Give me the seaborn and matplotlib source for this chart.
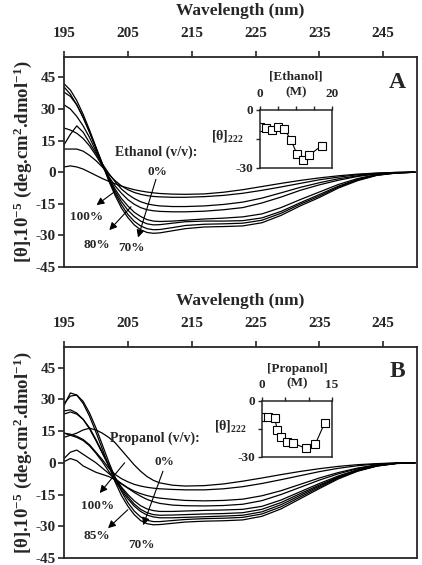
import matplotlib
matplotlib.use("Agg")
import matplotlib.pyplot as plt
import numpy as np
import pandas as pd
import seaborn as sns

# wavelengths (nm) at which the spectra were read
wl = [195, 196, 197, 198, 199, 200, 201, 202, 203, 204, 205, 206, 207, 208, 209,
      210, 212, 214, 217, 220, 223, 226, 229, 232, 235, 238, 241, 244, 247, 250]

# panel A : ethanol series
eth_a1 = [2.5, 3, 2.5, 1.5, 0, -1.5, -3, -4.3, -5.5, -6.6, -7.5, -8.3, -8.9, -9.4, -9.8,
          -10.1, -10.4, -10.5, -10.3, -9.5, -8.3, -6.8, -5.3, -3.9, -2.7, -1.7, -0.9, -0.4, -0.1, 0]
eth_a2 = [11, 11, 11, 10, 8, 5.5, 2.5, -1, -4, -6.5, -8.3, -9.6, -10.5, -11.1, -11.5,
          -11.7, -11.9, -11.9, -11.6, -11, -10, -8.6, -7, -5.3, -3.6, -2.3, -1.2, -0.5, -0.1, 0]
eth_a3 = [13, 18, 22, 19, 14, 9, 4, -0.5, -4.5, -8, -10.5, -12.5, -14, -15, -15.6,
          -16, -16.3, -16.3, -16, -15.3, -14.2, -12.3, -9.8, -7.2, -5, -3.1, -1.7, -0.7, -0.2, 0]
eth_a4 = [21, 20, 18.5, 16, 12.5, 8, 3, -2, -6.5, -10, -13, -15.2, -16.8, -17.8, -18.3,
          -18.6, -18.8, -18.8, -18.5, -17.8, -16.8, -14.6, -11.8, -8.6, -6, -3.8, -2, -0.8, -0.2, 0]
eth_a5 = [32, 30, 26.5, 22, 16.5, 10, 3.5, -2.5, -8, -12.5, -16, -19, -21, -22.5, -23.2,
          -23.4, -23.2, -22.8, -22.2, -21.8, -21.2, -19.8, -16.8, -13, -9.4, -5.8, -3, -1.1, -0.3, 0]
eth_a6 = [38, 36, 32, 26, 19, 11.5, 4, -3, -9, -14, -18, -21, -23.2, -24.5, -25,
          -24.9, -24.2, -23.5, -23.2, -23.2, -23, -21.7, -18.6, -14.5, -10.6, -6.6, -3.4, -1.3, -0.3, 0]
eth_a7 = [40.5, 37, 32, 26, 19, 11.5, 4, -3.5, -10, -15.5, -20, -23.3, -25.5, -26.8, -27.3,
          -27.2, -26.3, -25.3, -24.7, -24.5, -24.2, -22.8, -19.5, -15.2, -11.3, -7, -3.7, -1.4, -0.4, 0]
eth_a8 = [42, 39, 34, 27.5, 20, 12, 4, -4, -11, -17, -21.5, -25, -27.3, -28.6, -29,
          -28.8, -27.8, -26.8, -26, -25.8, -25.5, -24, -20.5, -16, -12, -7.5, -4, -1.5, -0.4, 0]

# panel B : propanol series
pro_b1 = [12, 13, 14, 15.5, 16.3, 15.5, 14, 12, 9.5, 6, 2.5, -1, -4, -6.5, -8.3,
          -9.5, -10.6, -11, -10.8, -10, -8.7, -7.2, -5.6, -4.1, -2.8, -1.7, -0.9, -0.4, -0.1, 0]
pro_b2 = [14, 13.5, 12.5, 11, 8.5, 5, 1.5, -2.5, -5.5, -7.5, -9, -10.2, -11, -11.6, -12,
          -12.3, -12.6, -12.8, -12.8, -12.3, -11.3, -9.8, -8, -6.1, -4.2, -2.6, -1.4, -0.6, -0.1, 0]
pro_b3 = [2, 5, 6, 4, 2, 0, -2.5, -5, -7.5, -9.8, -11.8, -13.4, -14.6, -15.5, -16.2,
          -16.7, -17.3, -17.8, -18, -17.8, -17.2, -15.6, -13.2, -10.2, -7.2, -4.6, -2.5, -1, -0.3, 0]
pro_b4 = [0.5, 2, 1, -1.5, -3, -4.5, -5.5, -6.5, -8, -10, -12, -14, -15.8, -17.3, -18.4,
          -19.2, -20, -20.3, -20.4, -20.2, -19.6, -17.9, -15, -11.6, -8.2, -5.2, -2.8, -1.1, -0.3, 0]
pro_b5 = [24.5, 25, 23.5, 20.5, 16, 10.5, 4.5, -1.5, -7, -11.5, -15, -18, -20.3, -21.8, -22.6,
          -23, -23, -22.8, -22.5, -22.3, -22, -20.6, -17.6, -13.7, -9.8, -6.2, -3.3, -1.3, -0.3, 0]
pro_b6 = [23, 24, 23, 20.5, 16.5, 11, 5, -1, -7, -12, -16, -19.5, -22, -23.6, -24.5,
          -24.8, -24.7, -24.5, -24.2, -24, -23.6, -22, -18.8, -14.6, -10.5, -6.6, -3.5, -1.4, -0.3, 0]
pro_b7 = [14, 13, 12, 10.5, 8, 4.5, 0.5, -4, -8.5, -13, -17, -20.5, -23, -24.7, -25.6,
          -26, -26, -25.8, -25.5, -25.2, -24.8, -23.2, -19.8, -15.4, -11, -6.9, -3.7, -1.4, -0.3, 0]
pro_b8 = [28, 31.5, 32, 29, 23.5, 16.5, 8.5, 0.5, -7, -13.5, -18.8, -22.8, -25.6, -27.2, -27.8,
          -27.8, -27.3, -26.8, -26.4, -26.2, -25.8, -24.2, -20.8, -16.2, -11.6, -7.2, -3.8, -1.5, -0.3, 0]
pro_b9 = [27, 33, 32, 28, 22, 14.5, 6.5, -1.5, -9, -15.5, -20.5, -24.5, -27.3, -28.8, -29.3,
          -29.2, -28.6, -28, -27.6, -27.4, -27, -25.3, -21.8, -17, -12.2, -7.6, -4, -1.6, -0.4, 0]

# insets: [theta]222 vs alcohol concentration (M)
eth_conc = [0, 1.7, 3.4, 5.1, 6.8, 8.6, 10.3, 12.0, 13.7, 17.1]
eth_t222 = [-9.0, -9.1, -10.3, -8.8, -10.0, -15.5, -22.9, -25.9, -23.3, -18.5]
pro_conc = [0, 1.3, 2.7, 3.3, 4.0, 5.4, 6.7, 9.4, 11.4, 13.4]
pro_t222 = [-8.9, -8.6, -9.3, -15.7, -19.6, -22.3, -22.8, -25.5, -23.4, -12.1]

eth_curves = [eth_a1, eth_a2, eth_a3, eth_a4, eth_a5, eth_a6, eth_a7, eth_a8]
pro_curves = [pro_b1, pro_b2, pro_b3, pro_b4, pro_b5, pro_b6, pro_b7, pro_b8, pro_b9]


def long_frame(curves):
    rows = []
    for i, c in enumerate(curves):
        for w, v in zip(wl, c):
            rows.append((i, w, v))
    return pd.DataFrame(rows, columns=["curve", "wl", "theta"])


sns.set_style("ticks")
plt.rcParams["font.family"] = ["Liberation Serif", "DejaVu Serif"]
plt.rcParams["font.weight"] = "bold"
plt.rcParams["mathtext.fontset"] = "custom"
plt.rcParams["mathtext.rm"] = "Liberation Serif:bold"
plt.rcParams["mathtext.it"] = "Liberation Serif:bold"
plt.rcParams["mathtext.bf"] = "Liberation Serif:bold"
plt.rcParams["axes.unicode_minus"] = False

W, H = 422, 565
fig = plt.figure(figsize=(W / 100, H / 100), dpi=100)


def main_axes(top, bottom):
    ax = fig.add_axes([64 / W, 1 - bottom / H, 353 / W, (bottom - top) / H])
    return ax


def style_main(ax):
    ax.set_xlim(195, 250.3)
    ax.set_ylim(-45, 54.7)
    ax.set_xticks([195, 205, 215, 225, 235, 245])
    ax.set_yticks([45, 30, 15, 0, -15, -30, -45])
    ax.xaxis.set_ticks_position("top")
    ax.xaxis.set_label_position("top")
    ax.tick_params(axis="x", direction="out", length=4, width=1.2, labelsize=11, pad=8)
    ax.tick_params(axis="y", direction="out", length=4, width=1.2, labelsize=11, pad=2)
    for s in ax.spines.values():
        s.set_linewidth(1.3)
        s.set_visible(True)
    ax.set_xlabel("Wavelength (nm)", fontsize=12.5, fontweight="bold", labelpad=9)
    ax.set_ylabel(r"[θ].10$^{-5}$ (deg.cm$^{2}$.dmol$^{-1}$)", fontsize=13.5,
                  fontweight="bold", labelpad=1)


def inset(rect, conc, vals, xmax, name):
    ax = fig.add_axes(rect)
    sns.lineplot(x=conc, y=vals, ax=ax, color="k", lw=0.8, marker="s",
                 markersize=5.5, markerfacecolor="white", markeredgecolor="k",
                 markeredgewidth=0.8)
    ax.set_xlim(0, xmax)
    ax.set_ylim(-30, 0)
    xt = list(range(0, xmax + 1, 5))
    ax.set_xticks(xt)
    ax.set_xticklabels(["0"] + [""] * (len(xt) - 2) + [str(xmax)])
    ax.set_yticks([0, -15, -30])
    ax.set_yticklabels(["0", "", "-30"])
    ax.xaxis.set_ticks_position("top")
    ax.tick_params(axis="x", direction="out", length=3, width=1, labelsize=9.5, pad=4)
    ax.tick_params(axis="y", direction="out", length=3, width=1, labelsize=9.5, pad=2)
    for s in ax.spines.values():
        s.set_linewidth(1.1)
    ax.text(0.5, 1.57, name, transform=ax.transAxes, ha="center", va="center", fontsize=9.5)
    ax.text(0.5, 1.31, "(M)", transform=ax.transAxes, ha="center", va="center", fontsize=9.5)
    ax.text(-0.45, 0.55, r"[θ]$_{222}$", transform=ax.transAxes, ha="center",
            va="center", fontsize=10)
    return ax


def arrow(ax, start, end):
    ax.annotate("", xy=end, xytext=start,
                arrowprops=dict(arrowstyle="-|>", color="k", lw=0.8,
                                mutation_scale=11, shrinkA=0, shrinkB=0))


# ---- panel A
axA = main_axes(57, 267)
sns.lineplot(data=long_frame(eth_curves), x="wl", y="theta", units="curve",
             estimator=None, color="k", lw=0.9, ax=axA)
style_main(axA)
axA.text(247.2, 42.7, "A", fontsize=17, ha="center", va="center")
axA.text(209.5, 9.7, "Ethanol (v/v):", fontsize=10, ha="center", va="center")
axA.text(209.7, -0.1, "0%", fontsize=9.5, ha="center", va="center")
axA.text(205.5, -36.2, "70%", fontsize=9.5, ha="center", va="center")
axA.text(200.1, -34.6, "80%", fontsize=9.5, ha="center", va="center")
axA.text(198.5, -21.4, "100%", fontsize=9.5, ha="center", va="center")
arrow(axA, (209.4, -3.4), (206.6, -31))
arrow(axA, (205.5, -16.4), (202.1, -27.5))
arrow(axA, (202.9, -9.3), (200.1, -15.6))
inset([260 / W, 1 - 168 / H, 72 / W, 58 / H], eth_conc, eth_t222, 20, "[Ethanol]")

# ---- panel B
axB = main_axes(347, 558)
sns.lineplot(data=long_frame(pro_curves), x="wl", y="theta", units="curve",
             estimator=None, color="k", lw=0.9, ax=axB)
style_main(axB)
axB.text(247.3, 43.3, "B", fontsize=17, ha="center", va="center")
axB.text(209.2, 11.8, "Propanol (v/v):", fontsize=10, ha="center", va="center")
axB.text(210.8, 0.3, "0%", fontsize=9.5, ha="center", va="center")
axB.text(207.1, -38.8, "70%", fontsize=9.5, ha="center", va="center")
axB.text(200.1, -34.8, "85%", fontsize=9.5, ha="center", va="center")
axB.text(200.3, -20.3, "100%", fontsize=9.5, ha="center", va="center")
arrow(axB, (210.5, -4), (207.4, -29.5))
arrow(axB, (205, -22.2), (201.9, -30.9))
arrow(axB, (204.5, 0), (200.6, -14.3))
inset([262 / W, 1 - 456.7 / H, 70 / W, 56 / H], pro_conc, pro_t222, 15, "[Propanol]")

fig.savefig("out.png", dpi=100)
